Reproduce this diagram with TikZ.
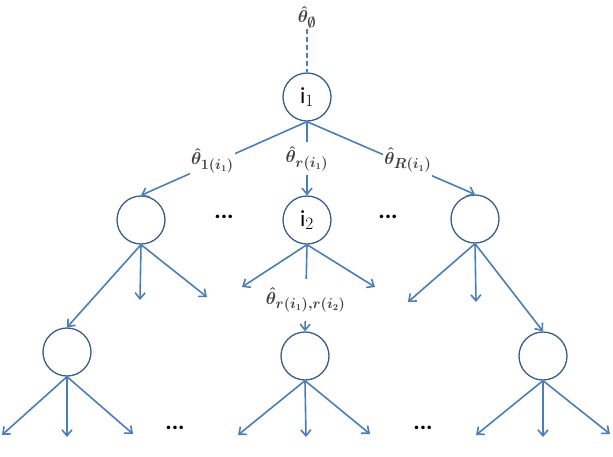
\documentclass[tikz,border=0pt]{standalone}
\usepackage{fontspec}
\setmainfont{Carlito}
\usetikzlibrary{arrows.meta}
\definecolor{edgeblue}{HTML}{4A7EBB}
\definecolor{circblue}{HTML}{385D8A}
\definecolor{labgray}{HTML}{404040}
\begin{document}
\begin{tikzpicture}[x=1pt, y=-1pt, >={Straight Barb[length=6pt,width=10pt]},
    vertex/.style={circle, draw=circblue, line width=1.3pt, minimum size=48pt, inner sep=0pt, font=\fontsize{23}{25}\selectfont},
    edge/.style={draw=edgeblue, line width=1.6pt},
    lab/.style={fill=white, text=labgray, inner xsep=1pt, inner ysep=4pt, font=\fontsize{19}{21}\selectfont\boldmath},
    dots/.style={font=\bfseries\fontsize{24}{24}\selectfont}]
    \useasboundingbox (0,0) rectangle (613,456);

    % Wurzel
    \node[text=labgray, inner sep=1pt, font=\fontsize{19}{21}\selectfont\boldmath] (th0) at (307,17) {$\hat{\theta}_{\emptyset}$};
    \node[vertex] (i1) at (307,97) {i$_1$};
    \draw[edge, dashed, dash pattern=on 5pt off 3pt] (th0) -- (i1.north);

    % zweite Ebene
    \node[vertex] (c1) at (141,220) {};
    \node[vertex] (i2) at (307,220) {i$_2$};
    \node[vertex] (c3) at (475,219) {};
    \node[dots] (dA) at (224,217) {...};
    \node[dots] (dB) at (388,217) {...};

    \draw[edge, ->] (i1.south) -- node[lab, pos=0.57, yshift=3pt] {$\hat{\theta}_{1(i_1)}$} (c1.north);
    \draw[edge, ->] (i1.south) -- node[lab] {$\hat{\theta}_{r(i_1)}$} (i2.north);
    \draw[edge, ->] (i1.south) -- node[lab, pos=0.6, yshift=5pt] {$\hat{\theta}_{R(i_1)}$} (c3.north);

    % dritte Ebene
    \node[vertex] (d1) at (67,352) {};
    \node[vertex] (d2) at (305,356) {};
    \node[vertex] (d3) at (543,356) {};
    \node[dots] (dC) at (175,428) {...};
    \node[dots] (dD) at (423,428) {...};

    \draw[edge, ->] (c1.south) -- (d1.north);
    \draw[edge, ->] (i2.south) -- node[lab, pos=0.64, inner ysep=9pt] {$\hat{\theta}_{r(i_1),r(i_2)}$} (d2.north);
    \draw[edge, ->] (c3.south) -- (d3.north);

    % freie Enden
    \coordinate (c1b) at (140,300); \coordinate (c1r) at (207,297);
    \coordinate (i2l) at (242,287); \coordinate (i2r) at (375,287);
    \coordinate (c3l) at (408,302); \coordinate (c3b) at (476,302);
    \draw[edge, ->] (c1.south) -- (c1b);
    \draw[edge, ->] (c1.south) -- (c1r);
    \draw[edge, ->] (i2.south) -- (i2l);
    \draw[edge, ->] (i2.south) -- (i2r);
    \draw[edge, ->] (c3.south) -- (c3l);
    \draw[edge, ->] (c3.south) -- (c3b);

    \foreach \n/\l/\b/\r in {d1/2/67/133, d2/238/306/370, d3/476/543/610} {
        \coordinate (\n l) at (\l,435);
        \coordinate (\n b) at (\b,437);
        \coordinate (\n r) at (\r,434);
        \draw[edge, ->] (\n.south) -- (\n l);
        \draw[edge, ->] (\n.south) -- (\n b);
        \draw[edge, ->] (\n.south) -- (\n r);
    }
\end{tikzpicture}
\end{document}
